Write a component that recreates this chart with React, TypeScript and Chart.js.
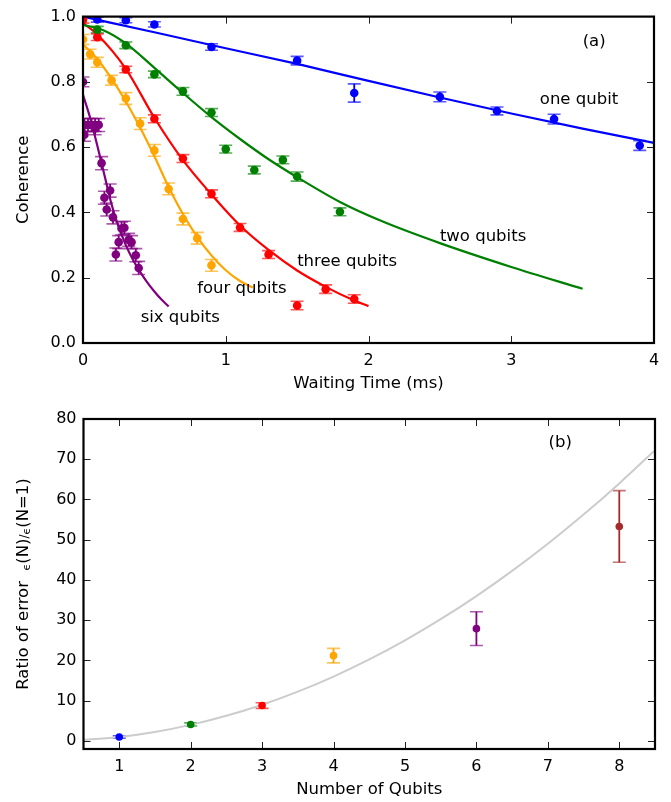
import React, { useEffect, useRef } from "react";
import { Chart, registerables } from "chart.js";
Chart.register(...registerables);

const FONT = '"DejaVu Sans", "Liberation Sans", sans-serif';

const BLUE = "#0000ff";
const GREEN = "#008000";
const RED = "#ff0000";
const ORANGE = "#ffa500";
const PURPLE = "#800080";
const BROWN = "#a52a2a";
const GREY = "#cccccc";

// ---------- Panel (a): coherence vs waiting time ----------
const oneT = [0.1, 0.3, 0.5, 0.9, 1.5, 1.9, 2.5, 2.9, 3.3, 3.9];
const oneC = [0.991, 0.989, 0.976, 0.907, 0.865, 0.766, 0.754, 0.711, 0.686, 0.605];
const oneE = [0.008, 0.008, 0.008, 0.01, 0.013, 0.028, 0.015, 0.012, 0.015, 0.015];

const twoT = [0.1, 0.3, 0.5, 0.7, 0.9, 1.0, 1.2, 1.4, 1.5, 1.8];
const twoC = [0.96, 0.912, 0.823, 0.771, 0.706, 0.594, 0.53, 0.561, 0.51, 0.402];
const twoE = [0.01, 0.01, 0.01, 0.012, 0.012, 0.012, 0.012, 0.012, 0.014, 0.012];

const threeT = [0, 0.1, 0.3, 0.5, 0.7, 0.9, 1.1, 1.3, 1.5, 1.7, 1.9];
const threeC = [0.99, 0.937, 0.838, 0.687, 0.565, 0.457, 0.354, 0.271, 0.115, 0.165, 0.135];
const threeE = [0.01, 0.01, 0.01, 0.012, 0.012, 0.012, 0.012, 0.012, 0.013, 0.013, 0.013];

const fourT = [0, 0.05, 0.1, 0.2, 0.3, 0.4, 0.5, 0.6, 0.7, 0.8, 0.9];
const fourC = [0.93, 0.885, 0.86, 0.805, 0.749, 0.672, 0.59, 0.472, 0.38, 0.321, 0.238];
const fourE = [0.015, 0.015, 0.015, 0.015, 0.018, 0.018, 0.018, 0.018, 0.018, 0.018, 0.018];

const sixT = [0, 0.01, 0.035, 0.06, 0.085, 0.11, 0.01, 0.085, 0.13, 0.15, 0.166, 0.19, 0.21, 0.23, 0.25, 0.27, 0.29, 0.32, 0.34, 0.37, 0.39];
const sixC = [0.8, 0.668, 0.668, 0.668, 0.668, 0.668, 0.638, 0.658, 0.551, 0.445, 0.409, 0.467, 0.385, 0.271, 0.309, 0.351, 0.353, 0.316, 0.309, 0.269, 0.23];
const sixE = [0.015, 0.02, 0.02, 0.02, 0.02, 0.02, 0.02, 0.02, 0.02, 0.02, 0.02, 0.02, 0.02, 0.02, 0.02, 0.02, 0.02, 0.02, 0.02, 0.02, 0.02];

// fitted curves
const oneFitT = [0, 0.5, 1, 1.5, 2, 2.5, 3, 3.5, 4];
const oneFitC = [1.0, 0.952, 0.903, 0.855, 0.803, 0.752, 0.703, 0.657, 0.613];
const twoFitT = [0, 0.15, 0.3, 0.5, 0.7, 0.9, 1.1, 1.3, 1.5, 1.8, 2.1, 2.5, 3.0, 3.5];
const twoFitC = [0.975, 0.957, 0.918, 0.843, 0.766, 0.692, 0.625, 0.563, 0.508, 0.432, 0.372, 0.306, 0.233, 0.166];
const threeFitT = [0, 0.1, 0.3, 0.5, 0.7, 0.9, 1.1, 1.3, 1.5, 1.7, 1.9, 2.0];
const threeFitC = [0.98, 0.945, 0.84, 0.69, 0.56, 0.455, 0.36, 0.285, 0.222, 0.172, 0.13, 0.113];
const fourFitT = [0, 0.1, 0.2, 0.3, 0.4, 0.5, 0.6, 0.7, 0.8, 0.9, 1.0, 1.1, 1.19];
const fourFitC = [0.915, 0.87, 0.81, 0.74, 0.66, 0.572, 0.478, 0.395, 0.325, 0.268, 0.223, 0.19, 0.17];
const sixFitT = [0, 0.05, 0.1, 0.15, 0.2, 0.25, 0.3, 0.35, 0.4, 0.45, 0.5, 0.55, 0.6];
const sixFitC = [0.76, 0.69, 0.605, 0.515, 0.425, 0.355, 0.3, 0.255, 0.218, 0.186, 0.158, 0.133, 0.112];

const topXTicks = [0, 1, 2, 3, 4];
const topYTicks = [0, 0.2, 0.4, 0.6, 0.8, 1.0];

// ---------- Panel (b): ratio of error vs number of qubits ----------
const nQubits = [1, 2, 3, 4, 6, 8];
const ratio = [1.0, 4.1, 8.8, 21.2, 27.9, 53.3];
const ratioErr = [0.3, 0.4, 0.7, 1.8, 4.2, 8.9];
const ratioColors = [BLUE, GREEN, RED, ORANGE, PURPLE, BROWN];

const fitN = [0.5, 1, 1.5, 2, 2.5, 3, 3.5, 4, 4.5, 5, 5.5, 6, 6.5, 7, 7.5, 8, 8.5];
const fitRatio = [0.25, 1, 2.25, 4, 6.25, 9, 12.25, 16, 20.25, 25, 30.25, 36, 42.25, 49, 56.25, 64, 72.25];

const botXTicks = [1, 2, 3, 4, 5, 6, 7, 8];
const botYTicks = [0, 10, 20, 30, 40, 50, 60, 70, 80];

const pts = (xs: number[], ys: number[]) => xs.map((x, i) => ({ x, y: ys[i] }));

function alphaColor(hex: string, a: number) {
  const r = parseInt(hex.slice(1, 3), 16), g = parseInt(hex.slice(3, 5), 16), b = parseInt(hex.slice(5, 7), 16);
  return `rgba(${r},${g},${b},${a})`;
}

const errorBarPlugin = {
  id: "errbars",
  beforeDatasetsDraw(chart: any) {
    const ctx = chart.ctx;
    const xs = chart.scales.x, ys = chart.scales.y;
    const ca = chart.chartArea;
    ctx.save();
    ctx.beginPath();
    ctx.rect(ca.left, ca.top, ca.right - ca.left, ca.bottom - ca.top);
    ctx.clip();
    chart.data.datasets.forEach((ds: any) => {
      if (!ds.errors) return;
      ds.data.forEach((p: any, i: number) => {
        const e = ds.errors[i];
        const col = Array.isArray(ds.errColor) ? ds.errColor[i] : ds.errColor;
        const x = xs.getPixelForValue(p.x);
        const y1 = ys.getPixelForValue(p.y - e);
        const y2 = ys.getPixelForValue(p.y + e);
        ctx.strokeStyle = col;
        ctx.lineWidth = 1.8;
        ctx.beginPath();
        ctx.moveTo(x, y1);
        ctx.lineTo(x, y2);
        ctx.stroke();
        ctx.strokeStyle = alphaColor(col, 0.65);
        ctx.lineWidth = 1.6;
        ctx.beginPath();
        ctx.moveTo(x - 6.5, y1);
        ctx.lineTo(x + 6.5, y1);
        ctx.moveTo(x - 6.5, y2);
        ctx.lineTo(x + 6.5, y2);
        ctx.stroke();
      });
    });
    ctx.restore();
  },
};

type Seg = { t: string; size: number; dy?: number; weight?: string };
type Deco = {
  xTicks: number[];
  yTicks: number[];
  texts: { x: number; y: number; t: string }[];
  xTitle: { t: string; y: number };
  yTitle: { segs: Seg[]; x: number };
};

function decoPlugin(cfg: Deco) {
  return {
    id: "deco",
    afterDraw(chart: any) {
      const ctx = chart.ctx;
      const ca = chart.chartArea;
      const xs = chart.scales.x, ys = chart.scales.y;
      ctx.save();
      // inward ticks
      ctx.strokeStyle = "#222";
      ctx.lineWidth = 1;
      const L = 7;
      ctx.beginPath();
      cfg.xTicks.forEach((v) => {
        const x = Math.round(xs.getPixelForValue(v)) + 0.5;
        ctx.moveTo(x, ca.bottom);
        ctx.lineTo(x, ca.bottom - L);
        ctx.moveTo(x, ca.top);
        ctx.lineTo(x, ca.top + L);
      });
      cfg.yTicks.forEach((v) => {
        const y = Math.round(ys.getPixelForValue(v)) + 0.5;
        ctx.moveTo(ca.left, y);
        ctx.lineTo(ca.left + L, y);
        ctx.moveTo(ca.right, y);
        ctx.lineTo(ca.right - L, y);
      });
      ctx.stroke();
      // frame
      ctx.strokeStyle = "#000";
      ctx.lineWidth = 2.2;
      ctx.strokeRect(ca.left, ca.top, ca.right - ca.left, ca.bottom - ca.top);
      // annotations
      ctx.fillStyle = "#000";
      ctx.font = `16.5px ${FONT}`;
      ctx.textAlign = "left";
      ctx.textBaseline = "middle";
      cfg.texts.forEach((tx) => {
        ctx.fillText(tx.t, xs.getPixelForValue(tx.x), ys.getPixelForValue(tx.y));
      });
      // x title
      ctx.textAlign = "center";
      ctx.fillText(cfg.xTitle.t, (ca.left + ca.right) / 2, cfg.xTitle.y);
      // y title (rotated, mixed sizes)
      const cy = (ca.top + ca.bottom) / 2;
      ctx.translate(cfg.yTitle.x, cy);
      ctx.rotate(-Math.PI / 2);
      ctx.textAlign = "left";
      ctx.textBaseline = "alphabetic";
      let total = 0;
      const widths = cfg.yTitle.segs.map((s) => {
        ctx.font = `${s.weight || "normal"} ${s.size}px ${FONT}`;
        const w = ctx.measureText(s.t).width;
        total += w;
        return w;
      });
      let xpos = -total / 2;
      cfg.yTitle.segs.forEach((s, i) => {
        ctx.font = `${s.weight || "normal"} ${s.size}px ${FONT}`;
        ctx.fillText(s.t, xpos, 6 + (s.dy || 0));
        xpos += widths[i];
      });
      ctx.restore();
    },
  };
}

function useChart(ref: React.RefObject<HTMLCanvasElement>, build: () => any) {
  useEffect(() => {
    if (!ref.current) return;
    const chart = new Chart(ref.current, build());
    return () => chart.destroy();
  }, []);
}

const tickFont = { family: FONT, size: 16 };

function scatterDs(xs: number[], ys: number[], es: number[], color: string) {
  return {
    data: pts(xs, ys),
    errors: es,
    errColor: color,
    showLine: false,
    pointRadius: 4.3,
    pointBackgroundColor: color,
    pointBorderWidth: 0,
    pointHoverRadius: 4.3,
  };
}

function fitDs(xs: number[], ys: number[], color: string, width = 2.2) {
  return {
    data: pts(xs, ys),
    showLine: true,
    borderColor: color,
    borderWidth: width,
    pointRadius: 0,
    pointHoverRadius: 0,
    cubicInterpolationMode: "monotone",
    fill: false,
  };
}

function TopChart() {
  const ref = useRef<HTMLCanvasElement>(null);
  useChart(ref, () => ({
    type: "scatter",
    data: {
      datasets: [
        scatterDs(oneT, oneC, oneE, BLUE),
        scatterDs(twoT, twoC, twoE, GREEN),
        scatterDs(threeT, threeC, threeE, RED),
        scatterDs(fourT, fourC, fourE, ORANGE),
        scatterDs(sixT, sixC, sixE, PURPLE),
        fitDs(oneFitT, oneFitC, BLUE),
        fitDs(twoFitT, twoFitC, GREEN),
        fitDs(threeFitT, threeFitC, RED),
        fitDs(fourFitT, fourFitC, ORANGE),
        fitDs(sixFitT, sixFitC, PURPLE),
      ],
    },
    options: {
      animation: false,
      responsive: false,
      devicePixelRatio: 1,
      layout: { padding: { left: 0, right: 17, top: 12, bottom: 0 } },
      plugins: { legend: { display: false }, tooltip: { enabled: false } },
      scales: {
        x: {
          type: "linear",
          min: 0,
          max: 4,
          grid: { display: false, drawTicks: false },
          border: { display: false },
          afterBuildTicks: (s: any) => { s.ticks = topXTicks.map((v) => ({ value: v })); },
          afterFit: (s: any) => { s.height = 57; },
          ticks: { font: tickFont, color: "#000", padding: 8, callback: (v: any) => String(v) },
        },
        y: {
          type: "linear",
          min: 0,
          max: 1,
          grid: { display: false, drawTicks: false },
          border: { display: false },
          afterBuildTicks: (s: any) => { s.ticks = topYTicks.map((v) => ({ value: v })); },
          afterFit: (s: any) => { s.width = 83; },
          ticks: { font: tickFont, color: "#000", padding: 7, callback: (v: any) => Number(v).toFixed(1) },
        },
      },
    },
    plugins: [
      errorBarPlugin,
      decoPlugin({
        xTicks: [1, 2, 3],
        yTicks: [0.2, 0.4, 0.6, 0.8],
        texts: [
          { x: 3.5, y: 0.922, t: "(a)" },
          { x: 3.2, y: 0.745, t: "one qubit" },
          { x: 2.5, y: 0.326, t: "two qubits" },
          { x: 1.5, y: 0.248, t: "three qubits" },
          { x: 0.8, y: 0.165, t: "four qubits" },
          { x: 0.404, y: 0.076, t: "six qubits" },
        ],
        xTitle: { t: "Waiting Time (ms)", y: 384 },
        yTitle: { segs: [{ t: "Coherence", size: 16.5 }], x: 22 },
      }),
    ],
  }));
  return <canvas ref={ref} width={671} height={400} style={{ position: "absolute", left: 0, top: 0 }} />;
}

function BottomChart() {
  const ref = useRef<HTMLCanvasElement>(null);
  useChart(ref, () => ({
    type: "scatter",
    data: {
      datasets: [
        {
          data: pts(nQubits, ratio),
          errors: ratioErr,
          errColor: ratioColors,
          showLine: false,
          pointRadius: 3.8,
          pointHoverRadius: 3.8,
          pointBackgroundColor: ratioColors,
          pointBorderWidth: 0,
        },
        fitDs(fitN, fitRatio, GREY, 2),
      ],
    },
    options: {
      animation: false,
      responsive: false,
      devicePixelRatio: 1,
      layout: { padding: { left: 0, right: 16, top: 19, bottom: 0 } },
      plugins: { legend: { display: false }, tooltip: { enabled: false } },
      scales: {
        x: {
          type: "linear",
          min: 0.5,
          max: 8.5,
          grid: { display: false, drawTicks: false },
          border: { display: false },
          afterBuildTicks: (s: any) => { s.ticks = botXTicks.map((v) => ({ value: v })); },
          afterFit: (s: any) => { s.height = 53; },
          ticks: { font: tickFont, color: "#000", padding: 8, callback: (v: any) => String(v) },
        },
        y: {
          type: "linear",
          min: -2,
          max: 80,
          grid: { display: false, drawTicks: false },
          border: { display: false },
          afterBuildTicks: (s: any) => { s.ticks = botYTicks.map((v) => ({ value: v })); },
          afterFit: (s: any) => { s.width = 83.5; },
          ticks: { font: tickFont, color: "#000", padding: 7, callback: (v: any) => String(v) },
        },
      },
    },
    plugins: [
      errorBarPlugin,
      decoPlugin({
        xTicks: botXTicks,
        yTicks: [0, 10, 20, 30, 40, 50, 60, 70],
        texts: [{ x: 7.01, y: 74.1, t: "(b)" }],
        xTitle: { t: "Number of Qubits", y: 390 },
        yTitle: {
          segs: [
            { t: "Ratio of error  ", size: 16.5 },
            { t: "ϵ", size: 11, dy: 2 },
            { t: "(N)", size: 16.5 },
            { t: "/", size: 12 },
            { t: "ϵ", size: 11, dy: 2 },
            { t: "(N=1)", size: 16.5 },
          ],
          x: 22,
        },
      }),
    ],
  }));
  return <canvas ref={ref} width={671} height={402} style={{ position: "absolute", left: 0, top: 400 }} />;
}

export default function App() {
  return (
    <div style={{ position: "absolute", left: 0, top: 0, width: 671, height: 802, background: "#fff" }}>
      <TopChart />
      <BottomChart />
    </div>
  );
}
